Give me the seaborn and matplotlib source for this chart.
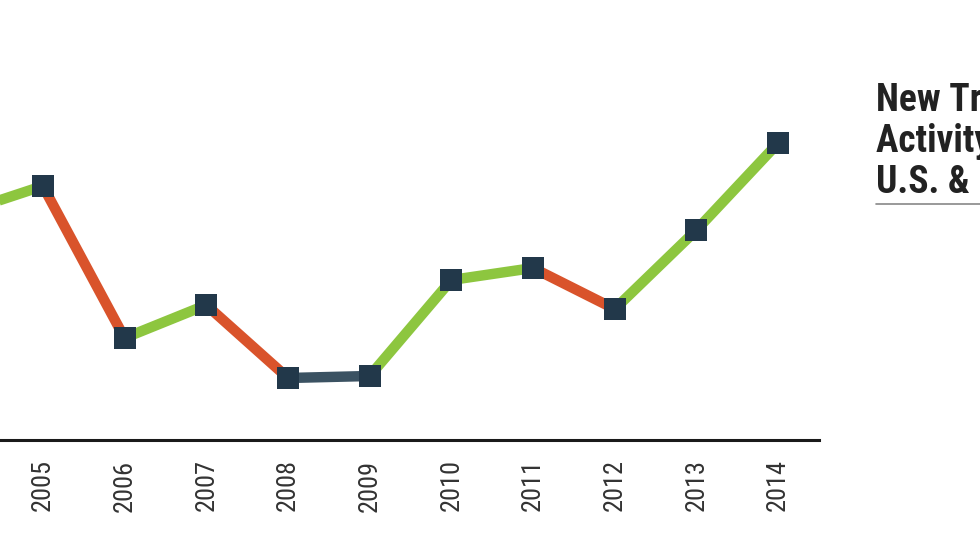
import numpy as np
import pandas as pd
import matplotlib
matplotlib.use("Agg")
import matplotlib.pyplot as plt
import seaborn as sns

# data (relative scale; 2004 sits just off the left edge)
years = [2004, 2005, 2006, 2007, 2008, 2009, 2010, 2011, 2012, 2013, 2014]
values = [227, 254, 102, 135, 62, 64, 160, 172, 131, 210, 297]
title_lines = ["New Trademark", "Activity in the", "U.S. &  Canada"]

GREEN = "#8dc63f"
RED = "#d9532b"
FLAT = "#3b5262"
MARK = "#22384a"

sns.set_style("white")
plt.rcParams['font.family'] = ['Roboto Condensed', 'Roboto', 'DejaVu Sans']

# one two-point segment per year step, coloured by direction
rows = []
seg_colors = {}
for i in range(len(years) - 1):
    d = values[i + 1] - values[i]
    seg_colors[i] = GREEN if d > 5 else (RED if d < -5 else FLAT)
    rows.append((years[i], values[i], i))
    rows.append((years[i + 1], values[i + 1], i))
seg = pd.DataFrame(rows, columns=['year', 'value', 'seg'])
pts = pd.DataFrame({'year': years, 'value': values})

fig = plt.figure(figsize=(9.8, 5.52), dpi=100)
ax = fig.add_axes([0.0, 112 / 552, 819 / 980, 440 / 552])

sns.lineplot(data=seg, x='year', y='value', hue='seg', palette=seg_colors,
             linewidth=7.5, legend=False, ax=ax, solid_capstyle='butt')
sns.scatterplot(data=pts, x='year', y='value', marker='s', s=260,
                color=MARK, edgecolor=MARK, linewidth=0, zorder=5, ax=ax)

ax.set_xlim(2004.5 - 2 / 81.7, 2014.5)
ax.set_ylim(0, 440)

for s in ['top', 'right', 'left']:
    ax.spines[s].set_visible(False)
ax.spines['bottom'].set_linewidth(2.2)
ax.spines['bottom'].set_color('#1a1a1a')

ax.set_xticks(years[1:])
ax.set_xticklabels([str(y) for y in years[1:]], rotation=90, fontsize=19,
                   color='#333333', va='top')
ax.set_xticks([y + 0.5 for y in years[:-1]], minor=True)
ax.tick_params(axis='x', which='major', length=0, pad=14)
ax.tick_params(axis='x', which='minor', length=7, width=1.5, direction='in',
               color='#1a1a1a')
ax.set_yticks([])
ax.set_xlabel('')
ax.set_ylabel('')

fig.text(876 / 980, 1 - 82 / 552, "\n".join(title_lines), fontsize=27,
         fontweight='bold', color='#222222', ha='left', va='top',
         linespacing=1.13)
fig.add_artist(plt.Line2D([876 / 980, 1.0], [1 - 204 / 552] * 2,
                          color='#888888', linewidth=1.2))

fig.savefig('out.png', dpi=100)
